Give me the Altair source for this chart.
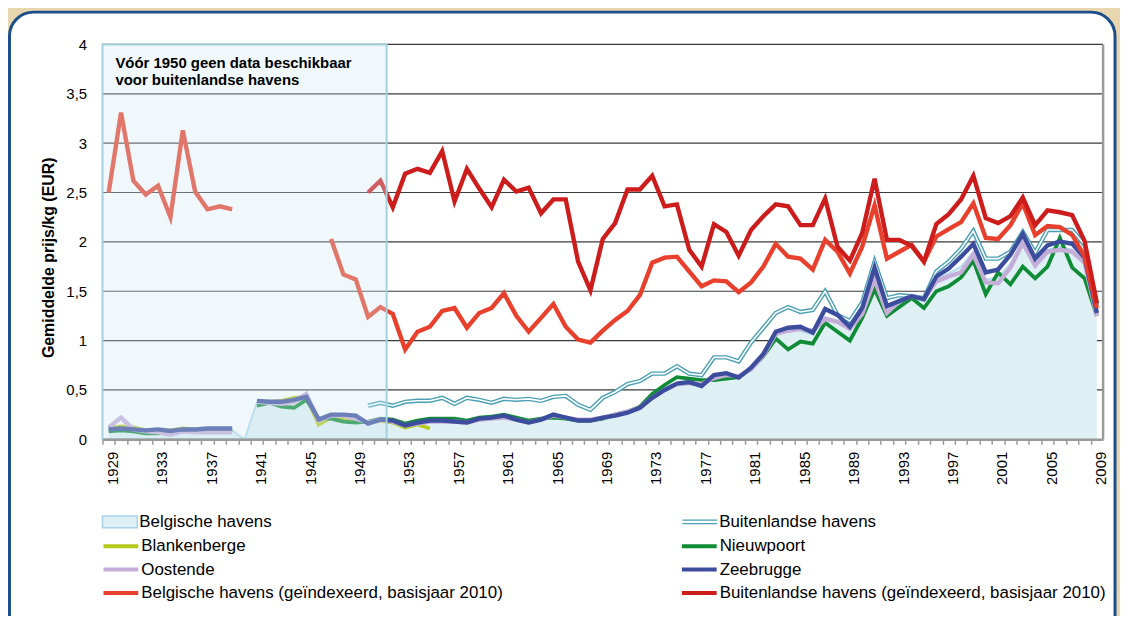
import altair as alt
import pandas as pd

years = list(range(1929, 2010))
N = None

belgische_havens = [
    0.09, 0.11, 0.10, 0.08, 0.08, 0.08, 0.09, 0.09, 0.09, 0.09, 0.09,
    0.00,
    0.37, 0.37, 0.36, 0.37, 0.42, 0.18, 0.23, 0.22, 0.20,
    0.16, 0.19, 0.18, 0.14, 0.16, 0.18, 0.18, 0.18, 0.17, 0.20,
    0.21, 0.23, 0.20, 0.17, 0.20, 0.23, 0.21, 0.19, 0.19, 0.21,
    0.24, 0.27, 0.32, 0.42, 0.50, 0.56, 0.57, 0.55, 0.63, 0.65,
    0.63, 0.71, 0.85, 1.05, 1.10, 1.10, 1.06, 1.24, 1.20, 1.11,
    1.29, 1.66, 1.30, 1.39, 1.44, 1.40, 1.62, 1.68, 1.75, 1.90,
    1.62, 1.64, 1.78, 2.02, 1.78, 1.92, 1.95, 1.92, 1.80, 1.25,
]
buitenlandse_havens = [N] * 21 + [
    0.34, 0.37, 0.34, 0.38, 0.39, 0.39, 0.42, 0.36, 0.42, 0.40,
    0.37, 0.41, 0.40, 0.41, 0.39, 0.43, 0.44, 0.35, 0.30, 0.42,
    0.48, 0.56, 0.59, 0.665, 0.665, 0.74, 0.665, 0.65, 0.83, 0.83,
    0.79, 0.98, 1.13, 1.28, 1.34, 1.29, 1.31, 1.50, 1.26, 1.20,
    1.385, 1.80, 1.43, 1.46, 1.45, 1.43, 1.70, 1.80, 1.93, 2.11,
    1.83, 1.83, 1.90, 2.10, 1.89, 2.12, 2.12, 2.12, 1.97, 1.36,
]
blankenberge = [
    0.11, 0.13, 0.12, 0.09, 0.09, 0.09, 0.11, 0.10, 0.10, 0.10, 0.10,
    N,
    0.39, 0.38, 0.39, 0.42, 0.43, 0.15, 0.22, 0.21, 0.20,
    0.17, 0.19, 0.17, 0.12, 0.15, 0.11,
] + [N] * 54
nieuwpoort = [
    0.08, 0.09, 0.08, 0.06, 0.06, 0.07, 0.08, 0.09, 0.09, 0.09, 0.10,
    N,
    0.34, 0.37, 0.33, 0.32, 0.40, 0.21, 0.21, 0.18, 0.17,
    0.18, 0.21, 0.20, 0.16, 0.19, 0.21, 0.21, 0.21, 0.19, 0.22,
    0.23, 0.25, 0.22, 0.19, 0.21, 0.22, 0.21, 0.19, 0.19, 0.21,
    0.25, 0.28, 0.33, 0.46, 0.55, 0.63, 0.615, 0.60, 0.60, 0.615,
    0.63, 0.715, 0.84, 1.02, 0.91, 0.99, 0.97, 1.18, 1.09, 1.00,
    1.23, 1.52, 1.25, 1.34, 1.43, 1.33, 1.50, 1.55, 1.64, 1.81,
    1.47, 1.69, 1.57, 1.75, 1.63, 1.75, 2.04, 1.74, 1.63, 1.25,
]
oostende = [
    0.12, 0.22, 0.10, 0.08, 0.07, 0.045, 0.08, 0.07, 0.07, 0.07, 0.07,
    N,
    0.38, 0.37, 0.36, 0.38, 0.46, 0.19, 0.24, 0.24, 0.21,
    0.17, 0.20, 0.18, 0.14, 0.16, 0.18, 0.18, 0.18, 0.17, 0.20,
    0.21, 0.22, 0.20, 0.17, 0.20, 0.24, 0.22, 0.20, 0.20, 0.22,
    0.25, 0.28, 0.32, 0.42, 0.50, 0.56, 0.57, 0.56, 0.62, 0.65,
    0.64, 0.71, 0.85, 1.07, 1.10, 1.12, 1.10, 1.22, 1.19, 1.12,
    1.27, 1.62, 1.28, 1.40, 1.45, 1.42, 1.60, 1.65, 1.69, 1.87,
    1.59, 1.58, 1.74, 1.99, 1.76, 1.90, 1.92, 1.90, 1.79, 1.25,
]
zeebrugge = [
    0.10, 0.11, 0.10, 0.09, 0.10, 0.085, 0.10, 0.10, 0.11, 0.11, 0.11,
    N,
    0.39, 0.38, 0.38, 0.40, 0.43, 0.20, 0.25, 0.25, 0.24,
    0.16, 0.20, 0.19, 0.14, 0.17, 0.19, 0.19, 0.18, 0.17, 0.21,
    0.22, 0.24, 0.20, 0.17, 0.20, 0.25, 0.22, 0.19, 0.19, 0.22,
    0.24, 0.27, 0.32, 0.42, 0.50, 0.565, 0.58, 0.54, 0.65, 0.67,
    0.625, 0.725, 0.865, 1.09, 1.13, 1.14, 1.08, 1.32, 1.26, 1.14,
    1.33, 1.74, 1.35, 1.40, 1.45, 1.42, 1.65, 1.73, 1.85, 1.98,
    1.69, 1.72, 1.87, 2.08, 1.83, 1.965, 2.005, 1.98, 1.84, 1.28,
]
belgische_geindexeerd = [
    2.50, 3.31, 2.62, 2.48, 2.57, 2.25, 3.13, 2.51, 2.33, 2.36, 2.33,
    N, N, N, N, N, N, N,
    2.03, 1.67, 1.62,
    1.24, 1.34, 1.27, 0.91, 1.09, 1.14, 1.30, 1.33, 1.13, 1.28,
    1.33, 1.48, 1.25, 1.09, 1.23, 1.37, 1.14, 1.01, 0.98, 1.10,
    1.21, 1.30, 1.46, 1.79, 1.84, 1.85, 1.70, 1.55, 1.61, 1.60,
    1.49, 1.59, 1.75, 1.98, 1.85, 1.83, 1.72, 2.02, 1.90, 1.68,
    1.95, 2.37, 1.83, 1.90, 1.97, 1.80, 2.055, 2.13, 2.20, 2.39,
    2.04, 2.03, 2.17, 2.39, 2.07, 2.16, 2.15, 2.07, 1.85, 1.33,
]
buitenlandse_geindexeerd = [N] * 21 + [
    2.50, 2.62, 2.35, 2.69, 2.74, 2.70, 2.92, 2.41, 2.74, 2.54,
    2.35, 2.63, 2.51, 2.55, 2.29, 2.43, 2.43, 1.80, 1.51, 2.03,
    2.19, 2.53, 2.53, 2.67, 2.36, 2.38, 1.92, 1.75, 2.18, 2.10,
    1.86, 2.12, 2.26, 2.38, 2.36, 2.17, 2.17, 2.44, 1.95, 1.81,
    2.09, 2.64, 2.02, 2.02, 1.96, 1.80, 2.18, 2.28, 2.43, 2.67,
    2.24, 2.19, 2.26, 2.45, 2.17, 2.32, 2.30, 2.27, 2.01, 1.38,
]

series_names = [
    "Belgische havens",
    "Buitenlandse havens",
    "Blankenberge",
    "Nieuwpoort",
    "Oostende",
    "Zeebrugge",
    "Belgische havens (geïndexeerd, basisjaar 2010)",
    "Buitenlandse havens (geïndexeerd, basisjaar 2010)",
]
series_colors = ["#dff0f4", "#4a9fb2", "#b4ca1c", "#0f8c35", "#c4aed8", "#3d4d9e", "#e8402c", "#cc1c1c"]
grid_values = [0.5, 1.0, 1.5, 2.0, 2.5, 3.0, 3.5, 4.0]
y_ticks = [0, 0.5, 1, 1.5, 2, 2.5, 3, 3.5, 4]
note_lines = ["Vóór 1950 geen data beschikbaar", "voor buitenlandse havens"]
note_span = {"x1": [1928.5], "x2": [1951.5], "y1": [0], "y2": [4]}

all_values = [belgische_havens, buitenlandse_havens, blankenberge, nieuwpoort,
              oostende, zeebrugge, belgische_geindexeerd, buitenlandse_geindexeerd]
rows = []
for name, vals in zip(series_names, all_values):
    assert len(vals) == len(years), name
    for yr, v in zip(years, vals):
        rows.append({"jaar": yr, "prijs": v, "reeks": name})
df = pd.DataFrame(rows)

W, H = 1006, 397
xs = alt.Scale(domain=[1928.5, 2009.5], nice=False, zero=False)
ys = alt.Scale(domain=[0, 4], nice=False, zero=True)

LEG_FONT = 17
LEG_COMMON = dict(
    title=None, orient="none", padding=0, labelFontSize=LEG_FONT, labelColor="black",
    labelLimit=600, labelOffset=8.5, symbolSize=400,
)
ROW0_Y, ROW_STEP = 469, 23.5
LEFT_X, RIGHT_X = 6.5, 589.5

x_axis = alt.Axis(
    values=years,
    labelExpr="(datum.value - 1929) % 4 == 0 ? toString(datum.value) : ''",
    labelAngle=270, labelFontSize=15, labelColor="black", labelPadding=7,
    labelOverlap=False, labelFlush=False, tickOffset=-6.21, labelOffset=10,
    tickSize=5, tickColor="#9a9a9a", tickWidth=1.5,
    domainColor="#9a9a9a", domainWidth=2.5, grid=False, title="", zindex=1,
)
y_axis = alt.Axis(
    values=y_ticks,
    labelExpr="replace(toString(datum.value), '.', ',')",
    labelFontSize=15, labelColor="black", labelPadding=16,
    ticks=False, domain=False, grid=False,
    title="Gemiddelde prijs/kg (EUR)", titleFontSize=16, titleFontWeight="bold",
    titleColor="black", titlePadding=9, titleY=214, zindex=1,
)

def series(name):
    return alt.Chart(df).transform_filter(alt.datum.reeks == name)

def xq(field):
    return alt.X(field, type="quantitative", scale=xs, axis=x_axis)

def yq(field):
    return alt.Y(field, type="quantitative", scale=ys, axis=y_axis)

panel = alt.Chart(pd.DataFrame({"d": [0]})).mark_rect(
    fill="white", stroke="#1c4f8a", strokeWidth=3, cornerRadius=24
).encode(x=alt.value(-93.5), x2=alt.value(1018), y=alt.value(-32.5), y2=alt.value(700))

grid = alt.Chart(pd.DataFrame({"v": grid_values})).mark_rule(
    color="#3a3a3a", strokeWidth=1.2
).encode(y=yq("v"))

area = series(series_names[0]).mark_area(opacity=1).encode(
    x=xq("jaar"), y=yq("prijs"),
    fill=alt.Fill(
        "reeks:N",
        scale=alt.Scale(domain=series_names[:1], range=series_colors[:1]),
        legend=alt.Legend(
            legendX=LEFT_X, legendY=ROW0_Y,
            symbolType="M-1.75,-0.6H1.75V0.6H-1.75Z",
            symbolStrokeColor="#a9d2ea", symbolStrokeWidth=1.5, symbolOpacity=1,
            **LEG_COMMON,
        ),
    ),
)
area_edge = series(series_names[0]).mark_line(color="#b3d9ee", strokeWidth=2).encode(
    x=xq("jaar"), y=yq("prijs"))

teal_outer = series(series_names[1]).mark_line(strokeWidth=4.4).encode(
    x=xq("jaar"), y=yq("prijs"),
    stroke=alt.Stroke(
        "reeks:N",
        scale=alt.Scale(domain=series_names[1:2], range=series_colors[1:2]),
        legend=alt.Legend(
            legendX=RIGHT_X, legendY=ROW0_Y,
            symbolType="M-1.75,-0.17H1.75M-1.75,0.17H1.75",
            symbolStrokeWidth=1.3, symbolOpacity=1,
            **LEG_COMMON,
        ),
    ),
)
teal_inner = series(series_names[1]).mark_line(color="white", strokeWidth=1.6).encode(
    x=xq("jaar"), y=yq("prijs"))

def line(name, color, width):
    return series(name).mark_line(color=color, strokeWidth=width).encode(
        x=xq("jaar"), y=yq("prijs"))

yellow = line(series_names[2], series_colors[2], 3.8)
green = line(series_names[3], series_colors[3], 3.8)
purple = line(series_names[4], series_colors[4], 4.4)
blue = line(series_names[5], series_colors[5], 4.4)

red = series(series_names[6]).mark_line(strokeWidth=4.4).encode(
    x=xq("jaar"), y=yq("prijs"),
    color=alt.Color(
        "reeks:N",
        scale=alt.Scale(domain=series_names[2:], range=series_colors[2:]),
        legend=alt.Legend(
            legendX=LEFT_X, legendY=ROW0_Y + ROW_STEP, columns=2, direction="horizontal",
            columnPadding=170.5, rowPadding=3.5,
            symbolType="M-1.75,0H1.75", symbolStrokeWidth=4, symbolOpacity=1,
            **LEG_COMMON,
        ),
    ),
)
darkred = line(series_names[7], series_colors[7], 4.4)

box = alt.Chart(pd.DataFrame(note_span)).mark_rect(
    fill="#d5e8f3", fillOpacity=0.32, stroke="#a3d0dc", strokeWidth=2
).encode(x=xq("x1"), x2="x2", y=yq("y1"), y2="y2")

note = alt.Chart(pd.DataFrame({"d": [0]})).mark_text(
    text=note_lines, align="left", baseline="middle", fontSize=15,
    fontWeight="bold", color="black", lineHeight=17,
).encode(x=alt.value(13), y=alt.value(19))

right_edge = alt.Chart(pd.DataFrame({"x": [2009.5], "y1": [0], "y2": [4]})).mark_rule(
    color="#9a9a9a", strokeWidth=2.5
).encode(x=xq("x"), y=yq("y1"), y2="y2")

chart = alt.layer(
    panel, grid, area, area_edge, teal_outer, teal_inner, yellow, green, purple, blue,
    red, darkred, box, note, right_edge,
).properties(
    width=W, height=H,
    padding={"left": 95, "top": 35, "right": 17, "bottom": 176},
    autosize=alt.AutoSizeParams(type="none"),
    background="#e7d6ae",
).configure(font="Liberation Sans").configure_view(stroke=None)

chart.save("out.html", embed_options={"renderer": "svg", "actions": False})
